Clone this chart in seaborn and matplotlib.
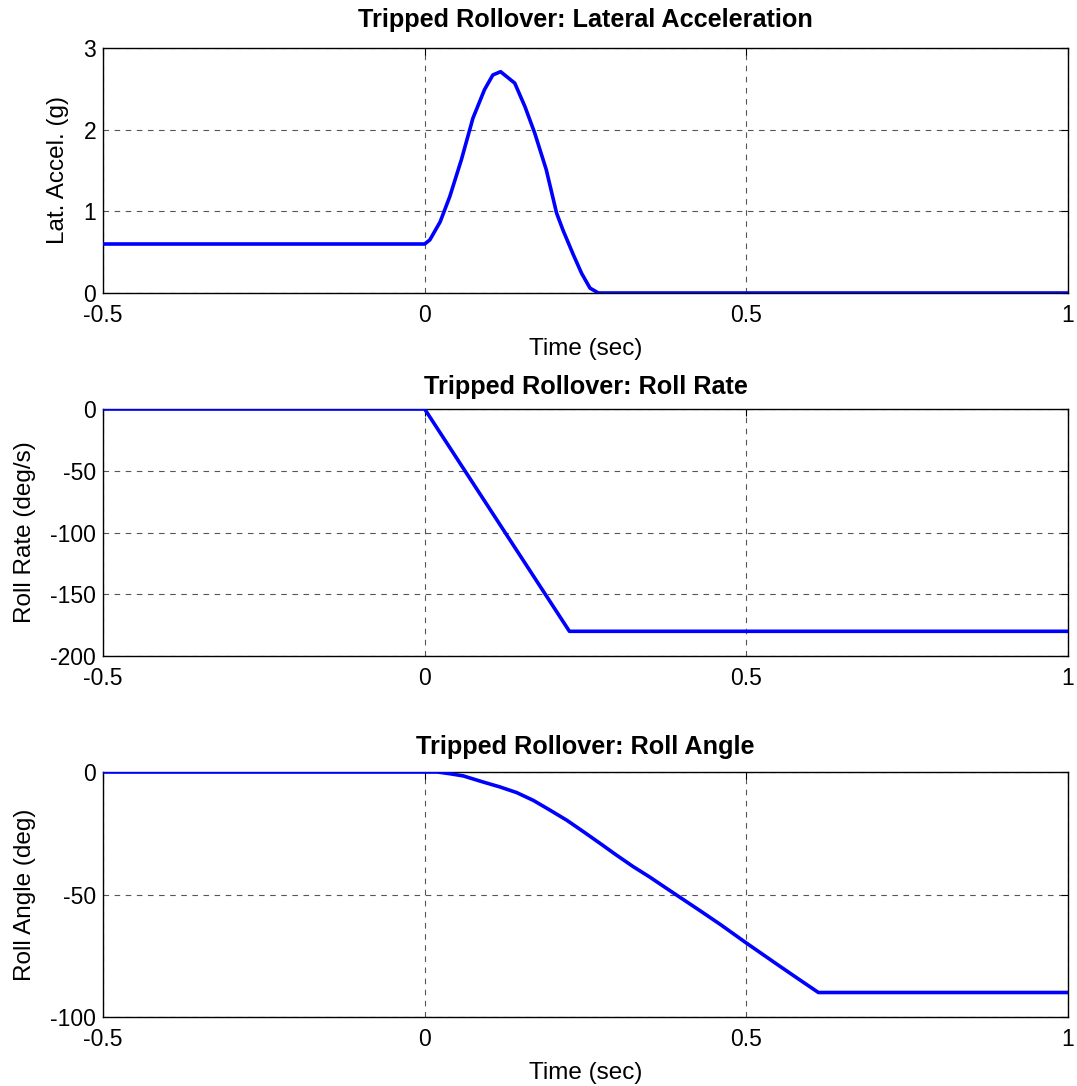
import numpy as np
import pandas as pd
import matplotlib
matplotlib.use("Agg")
import matplotlib.pyplot as plt
import seaborn as sns

# ---- data ----
t_acc = [-0.5, 0.0, 0.008, 0.024, 0.039, 0.057, 0.075, 0.093, 0.106, 0.118,
         0.14, 0.156, 0.171, 0.189, 0.205, 0.215, 0.231, 0.244, 0.257, 0.27, 1.0]
lat_acc = [0.6, 0.6, 0.65, 0.87, 1.18, 1.63, 2.14, 2.49, 2.67, 2.71,
           2.57, 2.28, 1.96, 1.51, 0.98, 0.77, 0.47, 0.24, 0.06, 0.0, 0.0]

t_rate = [-0.5, 0.0, 0.225, 1.0]
roll_rate = [0.0, 0.0, -180.0, -180.0]

t_ang = [-0.5, 0.0, 0.02, 0.039, 0.06, 0.091, 0.117, 0.143, 0.169, 0.195,
         0.221, 0.247, 0.273, 0.298, 0.324, 0.35, 0.376, 0.392, 0.428, 0.46,
         0.5, 0.55, 0.58, 0.612, 1.0]
roll_ang = [0.0, 0.0, 0.0, -0.7, -1.6, -4.1, -6.1, -8.4, -11.6, -15.6,
            -19.7, -24.4, -29.2, -33.9, -38.6, -42.9, -47.5, -50.3, -56.6, -62.3,
            -69.8, -78.9, -84.3, -90.0, -90.0]

titles = ["Tripped Rollover: Lateral Acceleration",
          "Tripped Rollover: Roll Rate",
          "Tripped Rollover: Roll Angle"]
ylabels = ["Lat. Accel. (g)", "Roll Rate (deg/s)", "Roll Angle (deg)"]
xlabel = "Time (sec)"
xticks = [-0.5, 0, 0.5, 1]
xticklabels = ["-0.5", "0", "0.5", "1"]
yticks_list = [[0, 1, 2, 3], [-200, -150, -100, -50, 0], [-100, -50, 0]]
ylims = [(0, 3), (-200, 0), (-100, 0)]

sns.set_style("white")
plt.rcParams['font.family'] = ['Liberation Sans', 'DejaVu Sans']
plt.rcParams['axes.unicode_minus'] = False
plt.rcParams['xtick.direction'] = 'in'
plt.rcParams['ytick.direction'] = 'in'
plt.rcParams['text.color'] = 'black'
plt.rcParams['axes.labelcolor'] = 'black'
plt.rcParams['xtick.color'] = 'black'
plt.rcParams['ytick.color'] = 'black'

fig = plt.figure(figsize=(10.77, 10.86), dpi=100)
W, H = 1077, 1086
boxes = [(48, 293), (409, 656), (772, 1017)]
title_pads = [15, 11, 13]
left, right = 103, 1068

datasets = [(t_acc, lat_acc), (t_rate, roll_rate), (t_ang, roll_ang)]
for i, ((top, bot), (tx, yv)) in enumerate(zip(boxes, datasets)):
    ax = fig.add_axes([left / W, 1 - bot / H, (right - left) / W, (bot - top) / H])
    df = pd.DataFrame({"t": tx, "v": yv})
    sns.lineplot(data=df, x="t", y="v", ax=ax, color=(0, 0, 1), linewidth=2.6,
                 estimator=None, sort=False, zorder=3)
    ax.set_xlim(-0.5, 1)
    ax.set_ylim(*ylims[i])
    ax.set_xticks(xticks)
    ax.set_xticklabels(xticklabels)
    ax.set_yticks(yticks_list[i])
    ax.grid(True, color='#444444', linestyle=(0, (5, 5)), linewidth=0.8, alpha=0.9)
    ax.tick_params(axis='both', labelsize=16.5, length=5, width=0.8, color='black',
                   top=True, right=True, labelcolor='black')
    ax.tick_params(axis='x', pad=8)
    ax.tick_params(axis='y', pad=5)
    for s in ax.spines.values():
        s.set_color('black')
        s.set_linewidth(1.0)
    ax.set_title(titles[i], fontsize=18.2, fontweight='bold', pad=title_pads[i],
                 color='black')
    ax.set_ylabel(ylabels[i], fontsize=17.5, labelpad=10)
    if i in (0, 2):
        ax.set_xlabel(xlabel, fontsize=17.5, labelpad=8)
    else:
        ax.set_xlabel("")

fig.savefig("out.png", dpi=100, facecolor='white')
